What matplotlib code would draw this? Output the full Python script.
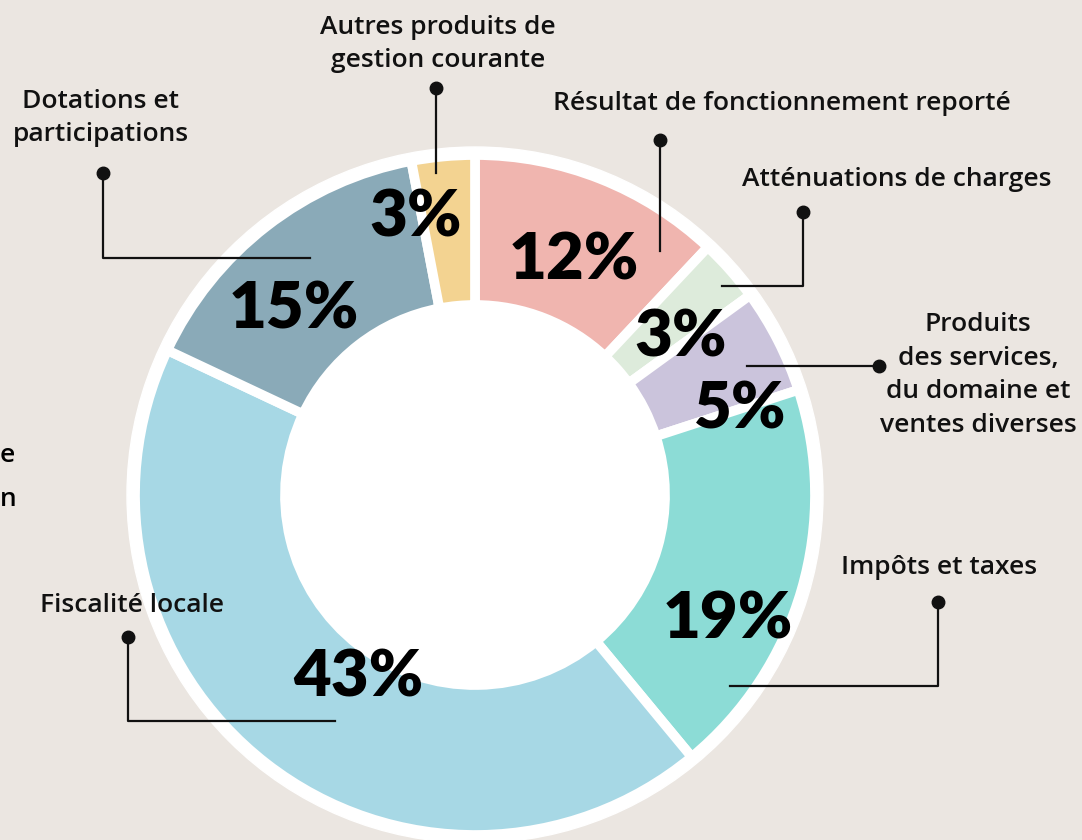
import matplotlib.pyplot as plt
from matplotlib.patches import Circle

# data
labels = ['Résultat de fonctionnement reporté', 'Atténuations de charges',
          'Produits\ndes services,\ndu domaine et\nventes diverses', 'Impôts et taxes',
          'Fiscalité locale', 'Dotations et\nparticipations', 'Autres produits de\ngestion courante']
values = [12, 3, 5, 19, 43, 15, 3]
colors = ['#F0B5AF', '#DDEBDB', '#CBC4DC', '#8CDCD6', '#A7D8E5', '#8AAAB8', '#F3D391']

# layout (pixel coordinates)
cx, cy, r_out, r_in = 475, 495, 340, 190
pct_pos = [(574, 261), (681, 338), (740, 410), (728, 620), (358, 678), (294, 310), (416, 218)]
label_pos = [(782, 104), (897, 180), (978, 375), (939, 567), (132, 606), (101, 118), (438, 44)]
leaders = [
    [(660, 140), (660, 251)],
    [(803, 212), (803, 286), (722, 286)],
    [(879, 366), (747, 366)],
    [(938, 602), (938, 686), (730, 686)],
    [(128, 637), (128, 721), (335, 721)],
    [(103, 173), (103, 258), (310, 258)],
    [(436, 88), (436, 173)],
]

bg = '#EBE6E1'
fig = plt.figure(figsize=(10.82, 8.4), dpi=100, facecolor=bg)
ax = fig.add_axes([0, 0, 1, 1])
ax.set_facecolor(bg)

ax.add_patch(Circle((cx, cy), r_out + 8, color='white', zorder=0))
ax.pie(values, colors=colors, startangle=-90, counterclock=True, center=(cx, cy),
       radius=r_out, wedgeprops=dict(width=r_out - r_in, edgecolor='white', linewidth=7))

for v, (x, y) in zip(values, pct_pos):
    ax.text(x, y, f'{v}%', ha='center', va='center', fontsize=47, fontweight='heavy',
            family='Lato', color='black', zorder=5)

for lab, (x, y) in zip(labels, label_pos):
    ax.text(x, y, lab, ha='center', va='center', fontsize=19, fontweight='semibold',
            family='Open Sans', color='#111111', linespacing=1.45, zorder=5)

for pts in leaders:
    xs = [p[0] for p in pts]
    ys = [p[1] for p in pts]
    ax.plot(xs, ys, color='#111111', lw=1.6, zorder=4)
    ax.plot(xs[0], ys[0], 'o', color='#111111', ms=9, zorder=4)

# fragments of text from the neighbouring panel
ax.text(0, 456, 'e', ha='left', va='center', fontsize=19, fontweight='semibold', family='Open Sans')
ax.text(0, 500, 'n', ha='left', va='center', fontsize=19, fontweight='semibold', family='Open Sans')

ax.set_xlim(0, 1082)
ax.set_ylim(840, 0)
ax.set_aspect('equal')
ax.axis('off')

fig.savefig('out.png', dpi=100, facecolor=bg)
